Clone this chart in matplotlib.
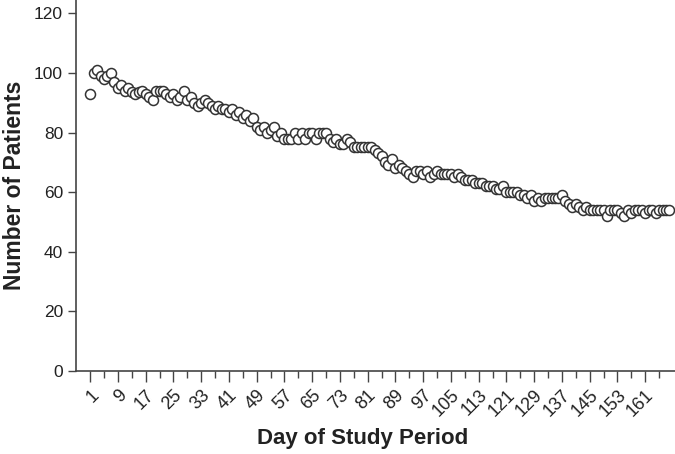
import numpy as np
import matplotlib
matplotlib.use('Agg')
import matplotlib.pyplot as plt
from matplotlib.ticker import FixedLocator

plt.rcParams['font.family'] = ['Liberation Sans', 'DejaVu Sans']

# number of patients per day
patients = [
    93, 100, 101, 99, 98, 99, 100, 97, 95, 96,      # 1-10
    94, 95, 93.5, 93, 93.5, 94, 93, 92, 91, 94,     # 11-20
    94, 94, 93, 92, 93, 91, 92, 94, 91, 92,         # 21-30
    90, 89, 90, 91, 90, 89, 88, 89, 88, 88,         # 31-40
    87, 88, 86, 87, 85, 86, 84, 85, 82, 81,         # 41-50
    82, 80, 81, 82, 79, 80, 78, 78, 78, 80,         # 51-60
    78, 80, 78, 80, 80, 78, 80, 80, 80, 78,         # 61-70
    77, 78, 76, 76, 78, 77, 75, 75, 75, 75,         # 71-80
    75, 75, 74, 73, 72, 70, 69, 71, 68, 69,         # 81-90
    68, 67, 66, 65, 67, 67, 66, 67, 65, 66,         # 91-100
    67, 66, 66, 66, 66, 65, 66, 65, 64, 64,         # 101-110
    64, 63, 63, 63, 62, 62, 62, 61, 61, 62,         # 111-120
    60, 60, 60, 60, 59, 59, 58, 59, 57, 58,         # 121-130
    57, 58, 58, 58, 58, 58, 59, 57, 56, 55,         # 131-140
    56, 55, 54, 55, 54, 54, 54, 54, 54, 52,         # 141-150
    54, 54, 54, 53, 52, 54, 53, 54, 54, 54,         # 151-160
    53, 54, 54, 53, 54, 54, 54, 54,                 # 161-168
]
days = np.arange(1, len(patients) + 1)
major_days = list(range(1, 162, 8))
minor_days = list(range(5, 166, 8))

fig = plt.figure(figsize=(6.75, 4.54), dpi=100)
ax = fig.add_axes([0.113, 0.183, 0.887, 0.817])

ax.plot(days, patients, 'o', markersize=7.2, markerfacecolor='white',
        markeredgecolor='#333333', markeredgewidth=1.1, clip_on=False)

ax.set_xlim(-3, 169.6)
ax.set_ylim(0, 124.5)
ax.yaxis.set_major_locator(FixedLocator([0, 20, 40, 60, 80, 100, 120]))
ax.xaxis.set_major_locator(FixedLocator(major_days))
ax.xaxis.set_minor_locator(FixedLocator(minor_days))
ax.set_xticklabels([str(d) for d in major_days], rotation=45, ha='right',
                   rotation_mode='anchor', fontsize=13, color='#222222')
ax.tick_params(axis='y', labelsize=12.5, labelcolor='#222222', length=6,
               width=1, color='#444444')
ax.tick_params(axis='x', which='major', length=8, width=1, color='#444444')
ax.tick_params(axis='x', which='minor', length=5, width=1, color='#444444')

for s in ['top', 'right']:
    ax.spines[s].set_visible(False)
for s in ['left', 'bottom']:
    ax.spines[s].set_color('#444444')
    ax.spines[s].set_linewidth(1.2)

ax.set_xlabel('Day of Study Period', fontsize=16, fontweight='bold',
              color='#222222', labelpad=6)
ax.xaxis.set_label_coords(0.479, -0.155)
ax.set_ylabel('Number of Patients', fontsize=16.5, fontweight='bold',
              color='#222222', labelpad=6)

fig.savefig('out.png', dpi=100)
